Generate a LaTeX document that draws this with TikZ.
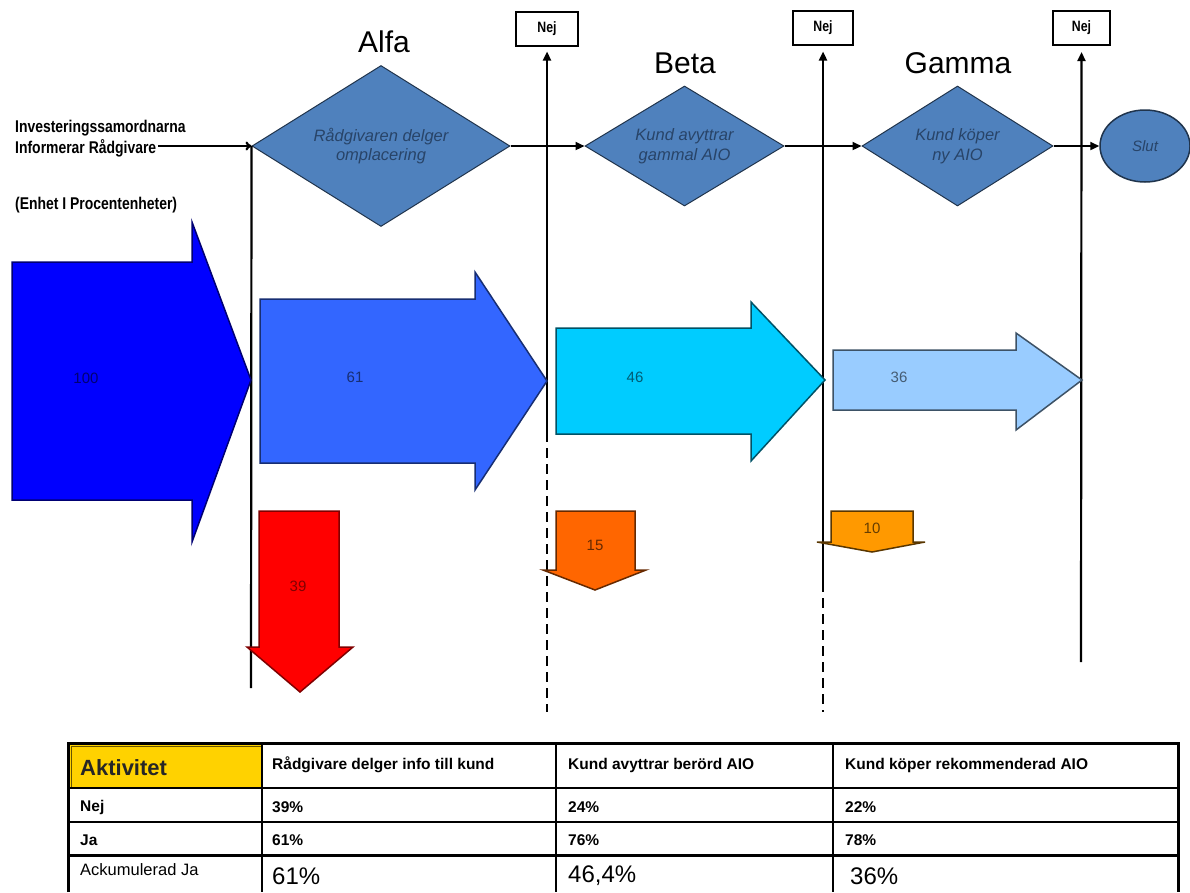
\documentclass[tikz,border=0pt]{standalone}
\usepackage{fontspec}
\setmainfont{Liberation Sans}
\newfontfamily\narrowsf[FakeStretch=0.82]{Liberation Sans}
\usetikzlibrary{shapes.geometric,arrows.meta}

\definecolor{decblue}{HTML}{4F81BD}
\definecolor{dectext}{HTML}{284468}
\definecolor{flowA}{HTML}{0000FF}
\definecolor{flowB}{HTML}{3366FF}
\definecolor{flowC}{HTML}{00CCFF}
\definecolor{flowD}{HTML}{99CCFF}
\definecolor{lossA}{HTML}{FF0000}
\definecolor{lossB}{HTML}{FF6600}
\definecolor{lossC}{HTML}{FF9900}
\definecolor{headgold}{HTML}{FFD200}

\newcommand{\fs}[1]{\fontsize{#1}{#1}\selectfont}

\begin{document}
\begin{tikzpicture}[x=1pt,y=-1pt,
  conn/.style={line width=2.2pt, draw=black},
  tip/.style={-{Triangle[length=9pt,width=8pt]}},
  opentip/.style={-{To[length=6pt,width=9pt]}},
  dashedline/.style={line width=2.2pt, dash pattern=on 10pt off 6pt},
  decision/.style={diamond, aspect=1.6, inner sep=0pt, fill=decblue,
    draw=decblue!40!black, line width=1pt, align=center,
    font=\itshape\fs{16.5}\linespread{1.2}\selectfont, text=dectext},
  phase/.style={font=\fs{30}},
  nejbox/.style={draw, line width=2pt, minimum height=34pt,
    font=\narrowsf\bfseries\fs{15}},
  note/.style={anchor=west, font=\narrowsf\bfseries\fs{17}, inner sep=0pt},
  flowlabel/.style={font=\fs{15}, inner sep=0pt},
  cell/.style={anchor=west, inner sep=0pt, font=\bfseries\fs{15.5}},
  bigcell/.style={anchor=west, inner sep=0pt, font=\fs{24}},
  thin/.style={line width=2pt},
  thick/.style={line width=3pt}]

\fill[white] (0,0) rectangle (1190,892);
\useasboundingbox (0,0) rectangle (1190,892);

% ---- decisions ----
\node[decision, minimum width=258pt, minimum height=161pt] (alfa) at (381,146)
  {Rådgivaren delger\\omplacering};
\node[decision, minimum width=199pt, minimum height=120pt] (beta) at (684.5,146)
  {Kund avyttrar\\gammal AIO};
\node[decision, minimum width=191pt, minimum height=120pt] (gamma) at (957.5,146)
  {Kund köper\\ny AIO};
\node[ellipse, fill=decblue, draw=decblue!40!black, line width=1.5pt,
  minimum width=90pt, minimum height=72pt, inner sep=0pt,
  font=\itshape\fs{15}, text=dectext] (slut) at (1145,146) {Slut};

\node[phase] (talfa) at (384,42) {Alfa};
\node[phase] (tbeta) at (685,63) {Beta};
\node[phase] (tgamma) at (958,63) {Gamma};

% ---- "Nej" exits ----
\node[nejbox, minimum width=62pt] (nej1) at (547,28.5) {Nej};
\node[nejbox, minimum width=60pt] (nej2) at (823,27.5) {Nej};
\node[nejbox, minimum width=57pt] (nej3) at (1081.5,28) {Nej};

\coordinate (v0b) at (251,688);
\coordinate (v1a) at (547,432);
\coordinate (v1b) at (547,712);
\coordinate (v2a) at (823,582);
\coordinate (v2b) at (823,712);
\coordinate (v3b) at (1081,662);

\draw[conn] (alfa.west) -- (v0b);
\draw[conn, tip, shorten >=5pt] (v1a) -- (nej1.south);
\draw[dashedline] (v1a) -- (v1b);
\draw[conn, tip, shorten >=6pt] (v2a) -- (nej2.south);
\draw[dashedline] (v2a) -- (v2b);
\draw[conn, tip, shorten >=6pt] (v3b) -- (nej3.south);

% ---- main flow ----
\node[note] (inv) at (15,128) {Investeringssamordnarna};
\node[note] (inf) at (15,148) {Informerar Rådgivare};
\node[note] (unit) at (15,205) {(Enhet I Procentenheter)};
\coordinate (start) at (158,146);
\draw[conn, opentip] (start) -- (alfa.west);
\draw[conn, tip] (alfa.east) -- (beta.west);
\draw[conn, tip] (beta.east) -- (gamma.west);
\draw[conn, tip] (gamma.east) -- (slut.west);

% ---- volume arrows ----
\filldraw[fill=flowA, draw=flowA!45!black, line width=1.5pt]
  (12,262) -- (192,262) -- (192,222) -- (251,380) -- (192,542) -- (192,500) -- (12,500) -- cycle;
\node[flowlabel, text=flowA!45!black] (n100) at (86,378) {100};

\filldraw[fill=flowB, draw=flowB!45!black, line width=1.5pt]
  (260,299) -- (475,299) -- (475,272) -- (547,381) -- (475,490) -- (475,463) -- (260,463) -- cycle;
\node[flowlabel, text=flowB!45!black] (n61) at (355,377) {61};

\filldraw[fill=flowC, draw=flowC!40!black, line width=1.5pt]
  (556,328) -- (751,328) -- (751,302) -- (825,380) -- (751,461) -- (751,434) -- (556,434) -- cycle;
\node[flowlabel, text=flowC!45!black] (n46) at (635,377) {46};

\filldraw[fill=flowD, draw=flowD!40!black, line width=1.5pt]
  (833,350) -- (1016,350) -- (1016,333) -- (1082,380) -- (1016,430) -- (1016,410) -- (833,410) -- cycle;
\node[flowlabel, text=flowD!45!black] (n36) at (899,377) {36};

% ---- drop-out arrows ----
\filldraw[fill=lossA, draw=lossA!50!black, line width=1.5pt]
  (259,511) -- (339,511) -- (339,647) -- (353,647) -- (300,692) -- (247,647) -- (259,647) -- cycle;
\node[flowlabel, text=lossA!50!black] (n39) at (298,586) {39};

\filldraw[fill=lossB, draw=lossB!40!black, line width=1.5pt]
  (556,511) -- (635,511) -- (635,570) -- (646,570) -- (595,590) -- (543,570) -- (556,570) -- cycle;
\node[flowlabel, text=lossB!40!black] (n15) at (595,545) {15};

\filldraw[fill=lossC, draw=lossC!35!black, line width=1.5pt]
  (831,511) -- (913,511) -- (913,542) -- (925,542) -- (872,552) -- (817,542) -- (831,542) -- cycle;
\node[flowlabel, text=lossC!40!black] (n10) at (872,528) {10};

% ---- summary table ----
\fill[headgold] (70,745) rectangle (262,788);
\draw[line width=1pt, headgold!40!black] (71,746) rectangle (261,787);
\draw[thin] (68,788) -- (1178,788);
\draw[thin] (68,822) -- (1178,822);
\draw[thick] (68,855) -- (1178,855);
\draw[thin] (262,743) -- (262,892);
\draw[thin] (556,743) -- (556,892);
\draw[thin] (833,743) -- (833,892);
\draw[thick] (68,892) -- (68,743) -- (1178,743) -- (1178,892);

\node[anchor=west, inner sep=0pt, font=\bfseries\fs{22}, text=black!85] (hAkt) at (80,768) {Aktivitet};
\node[cell] (h1) at (272,765) {Rådgivare delger info till kund};
\node[cell] (h2) at (568,765) {Kund avyttrar berörd AIO};
\node[cell] (h3) at (845,765) {Kund köper rekommenderad AIO};

\node[cell] (rNej) at (80,807) {Nej};
\node[cell] (c11) at (272,807) {39\%};
\node[cell] (c12) at (568,807) {24\%};
\node[cell] (c13) at (845,807) {22\%};

\node[cell] (rJa) at (80,840) {Ja};
\node[cell] (c21) at (272,840) {61\%};
\node[cell] (c22) at (568,840) {76\%};
\node[cell] (c23) at (845,840) {78\%};

\node[anchor=west, inner sep=0pt, font=\fs{16.5}] (rAck) at (80,870) {Ackumulerad Ja};
\node[bigcell] (c31) at (272,876) {61\%};
\node[bigcell] (c32) at (568,876) {46,4\%};
\node[bigcell] (c33) at (850,876) {36\%};

\end{tikzpicture}
\end{document}
